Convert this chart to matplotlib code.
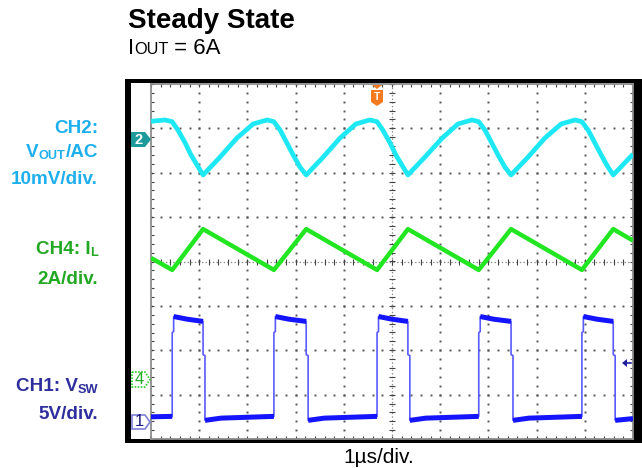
import numpy as np
import matplotlib
matplotlib.use("Agg")
import matplotlib.pyplot as plt
from matplotlib.patches import Rectangle, Polygon
from matplotlib.ticker import MultipleLocator

plt.rcParams["font.family"] = "Liberation Sans"
plt.rcParams["lines.scale_dashes"] = False

W, H = 642, 468

# time axis in divisions (1 us/div), vertical axis in divisions (8 div screen)
vout_t = [0.00, 0.29,
          0.44, 0.56, 0.71, 0.83, 0.98, 1.08, 1.43, 1.78, 2.12, 2.41,
          2.55, 2.68, 2.82, 2.95, 3.09, 3.22, 3.57, 3.92, 4.25, 4.54,
          4.69, 4.81, 4.96, 5.08, 5.23, 5.33, 5.68, 6.04, 6.37, 6.66,
          6.80, 6.93, 7.07, 7.20, 7.34, 7.47, 7.82, 8.17, 8.51, 8.80,
          8.94, 9.07, 9.21, 9.34, 9.48, 9.59, 9.94, 10.00]
vout_v = [3.16, 3.19,
          3.15, 2.96, 2.67, 2.40, 2.13, 1.95, 2.35, 2.78, 3.10, 3.19,
          3.15, 2.96, 2.67, 2.40, 2.13, 1.95, 2.35, 2.78, 3.10, 3.19,
          3.15, 2.96, 2.67, 2.40, 2.13, 1.95, 2.35, 2.78, 3.10, 3.19,
          3.15, 2.96, 2.67, 2.40, 2.13, 1.95, 2.35, 2.78, 3.10, 3.19,
          3.15, 2.96, 2.67, 2.40, 2.13, 1.95, 2.35, 2.42]

il_t = [0.00, 0.44, 1.08, 2.55, 3.22, 4.69, 5.33, 6.80, 7.47, 8.94, 9.59, 10.00]
il_v = [0.08, -0.19, 0.73, -0.19, 0.73, -0.19, 0.73, -0.19, 0.73, -0.19, 0.73, 0.47]

vsw_t = [0.00, 0.44, 0.44, 0.47, 0.47, 0.75, 1.08, 1.08, 1.12, 1.12, 1.45,
         2.55, 2.55, 2.58, 2.58, 2.86, 3.22, 3.22, 3.26, 3.26, 3.59,
         4.69, 4.69, 4.72, 4.72, 5.00, 5.33, 5.33, 5.37, 5.37, 5.70,
         6.80, 6.80, 6.83, 6.83, 7.11, 7.47, 7.47, 7.51, 7.51, 7.84,
         8.94, 8.94, 8.97, 8.97, 9.25, 9.59, 9.59, 9.63, 9.63, 10.00]
vsw_v = [-3.50, -3.49, -1.60, -1.58, -1.24, -1.30, -1.35, -2.10, -2.12, -3.58, -3.53,
         -3.49, -1.60, -1.58, -1.24, -1.30, -1.35, -2.10, -2.12, -3.58, -3.53,
         -3.49, -1.60, -1.58, -1.24, -1.30, -1.35, -2.10, -2.12, -3.58, -3.53,
         -3.49, -1.60, -1.58, -1.24, -1.30, -1.35, -2.10, -2.12, -3.58, -3.53,
         -3.49, -1.60, -1.58, -1.24, -1.30, -1.35, -2.10, -2.12, -3.58, -3.54]

CYAN = "#1ee8f4"
GREEN = "#22e622"
BLUE = "#1414ff"
BLUE_EDGE = "#5a5aff"

fig = plt.figure(figsize=(W / 100, H / 100), dpi=100)


def fx(x):
    return x / W


def fy(y):
    return 1 - y / H


def poly(pts, **kw):
    p = Polygon([(fx(a), fy(b)) for a, b in pts], closed=True,
                transform=fig.transFigure, **kw)
    fig.add_artist(p)


def rich(parts, x, y, ha="left", color="k", weight="normal"):
    # parts: (text, size, dy px); laid out on one baseline
    r = fig.canvas.get_renderer()
    arts = []
    for s, size, dy in parts:
        t = fig.text(0, 0, s, fontsize=size, color=color, fontweight=weight,
                     va="baseline", ha="left")
        arts.append((t, dy))
    widths = [t.get_window_extent(r).width for t, _ in arts]
    x0 = x - sum(widths) if ha == "right" else x
    for (t, dy), w in zip(arts, widths):
        t.set_position((fx(x0), fy(y - dy)))
        x0 += w


# scope frame
fig.add_artist(Rectangle((fx(125), fy(443)), (642 - 125) / W, (443 - 79) / H,
                         transform=fig.transFigure, facecolor="black", zorder=-2))
fig.add_artist(Rectangle((fx(131), fy(439)), (633 - 131) / W, (439 - 83) / H,
                         transform=fig.transFigure, facecolor="white", zorder=-1))

ax = fig.add_axes([fx(151), fy(439), (633 - 151) / W, (439 - 84) / H])
ax.set_xlim(0, 10)
ax.set_ylim(-4, 4)
for s in ax.spines.values():
    s.set_color("#8c8c8c")
    s.set_linewidth(1.3)
ax.xaxis.set_major_locator(MultipleLocator(1))
ax.yaxis.set_major_locator(MultipleLocator(1))
ax.xaxis.set_minor_locator(MultipleLocator(0.2))
ax.yaxis.set_minor_locator(MultipleLocator(0.2))
ax.tick_params(which="both", direction="in", top=True, right=True,
               labelbottom=False, labelleft=False, length=2.5, width=0.8,
               color="#444444")

# dotted graticule
fine_y = np.arange(-4, 4.01, 0.2)
fine_x = np.arange(0, 10.01, 0.2)
for gx in range(1, 10):
    if gx == 5:
        continue
    ax.plot(np.full_like(fine_y, gx), fine_y, ls="none", marker="s",
            ms=1.4, mew=0, color="#555555", zorder=1)
for gy in range(-3, 4):
    if gy == 0:
        continue
    ax.plot(fine_x, np.full_like(fine_x, gy), ls="none", marker="s",
            ms=1.4, mew=0, color="#555555", zorder=1)
# center crosshair
ax.plot([5, 5], [-4, 4], color="#888888", lw=0.9, ls=(0, (1, 1.6)), zorder=1)
ax.plot([0, 10], [0, 0], color="#888888", lw=0.9, ls=(0, (1, 1.6)), zorder=1)
ax.plot(np.full_like(fine_y, 5), fine_y, ls="none", marker="_", ms=4,
        mew=0.8, color="#444444", zorder=1)
ax.plot(fine_x, np.zeros_like(fine_x), ls="none", marker="|", ms=4,
        mew=0.8, color="#444444", zorder=1)

# traces
ax.plot(vout_t, vout_v, color=CYAN, lw=3.4, solid_joinstyle="round",
        solid_capstyle="butt", zorder=3)
ax.plot(il_t, il_v, color=GREEN, lw=3.2, solid_joinstyle="round",
        solid_capstyle="butt", zorder=3)

# switch node: thin edges, thick noisy flats
ax.plot(vsw_t, vsw_v, color=BLUE_EDGE, lw=1.2, zorder=4)
flat_t, flat_v = [], []
for i in range(len(vsw_t) - 1):
    if vsw_t[i + 1] - vsw_t[i] > 0.05:
        if not flat_t or flat_t[-1] != vsw_t[i]:
            flat_t += [np.nan, vsw_t[i]]
            flat_v += [np.nan, vsw_v[i]]
        flat_t.append(vsw_t[i + 1])
        flat_v.append(vsw_v[i + 1])
ax.plot(flat_t, flat_v, color=BLUE, lw=3.6, solid_joinstyle="round",
        solid_capstyle="butt", zorder=5)

# channel markers on the left strip
poly([(131, 132), (145, 132), (151, 139.5), (145, 147), (131, 147)],
     facecolor="#1f9a9a", edgecolor="none", zorder=5)
fig.text(fx(138.5), fy(139.5), "2", color="white", fontsize=10.5, fontweight="bold",
         ha="center", va="center", zorder=6)
poly([(132, 372), (145, 372), (150, 379.5), (145, 387), (132, 387)],
     facecolor="white", edgecolor="#2ecc2e", lw=1.2, ls=(0, (1.2, 1)), zorder=5)
fig.text(fx(139.5), fy(379.5), "4", color="#22aa22", fontsize=12,
         ha="center", va="center", zorder=6)
poly([(132, 415), (145, 415), (150, 422), (145, 429), (132, 429)],
     facecolor="white", edgecolor="#8080d8", lw=1.2, zorder=5)
fig.text(fx(139.5), fy(422), "1", color="#1c1c80", fontsize=12,
         ha="center", va="center", zorder=6)

# trigger position marker
poly([(372, 85), (382, 85), (377, 89)], facecolor="#f47a20", edgecolor="none", zorder=6)
poly([(371, 90), (383, 90), (383, 102), (377, 106), (371, 102)],
     facecolor="#f47a20", edgecolor="none", zorder=6)
fig.text(fx(377), fy(97), "T", color="white", fontsize=7.5, fontweight="bold",
         ha="center", va="center", zorder=7)

# trigger level marker
poly([(622, 363), (627, 359), (627, 367)], facecolor="#2020a0", edgecolor="none", zorder=6)
fig.add_artist(plt.Line2D([fx(626), fx(631)], [fy(363), fy(363)],
                          transform=fig.transFigure, color="#2020a0", lw=1.2, zorder=6))

# titles
fig.text(fx(128), fy(28), "Steady State", fontsize=20, fontweight="bold",
         va="baseline", ha="left")
rich([("I", 16, 0), ("OUT", 11.7, 0), (" = 6A", 16, 0)], 128, 54)

# channel labels
C2, C4, C1 = "#1eb0ee", "#22a822", "#2e2e9e"
LS, SS = 13.6, 9.2
rich([("CH2:", LS, 0)], 98, 133, ha="right", color=C2, weight="bold")
rich([("V", LS, 0), ("OUT", SS, -2), ("/AC", LS, 0)], 98, 157, ha="right",
     color=C2, weight="bold")
rich([("10mV/div.", LS, 0)], 98, 184, ha="right", color=C2, weight="bold")
rich([("CH4: I", LS, 0), ("L", SS, -2)], 98, 254, ha="right", color=C4, weight="bold")
rich([("2A/div.", LS, 0)], 98, 284, ha="right", color=C4, weight="bold")
rich([("CH1: V", LS, 0), ("SW", SS, -2)], 98, 391, ha="right", color=C1, weight="bold")
rich([("5V/div.", LS, 0)], 98, 419, ha="right", color=C1, weight="bold")

fig.text(fx(379), fy(463), "1\u00b5s/div.", fontsize=15, ha="center", va="baseline")

fig.savefig("out.png", dpi=100)
